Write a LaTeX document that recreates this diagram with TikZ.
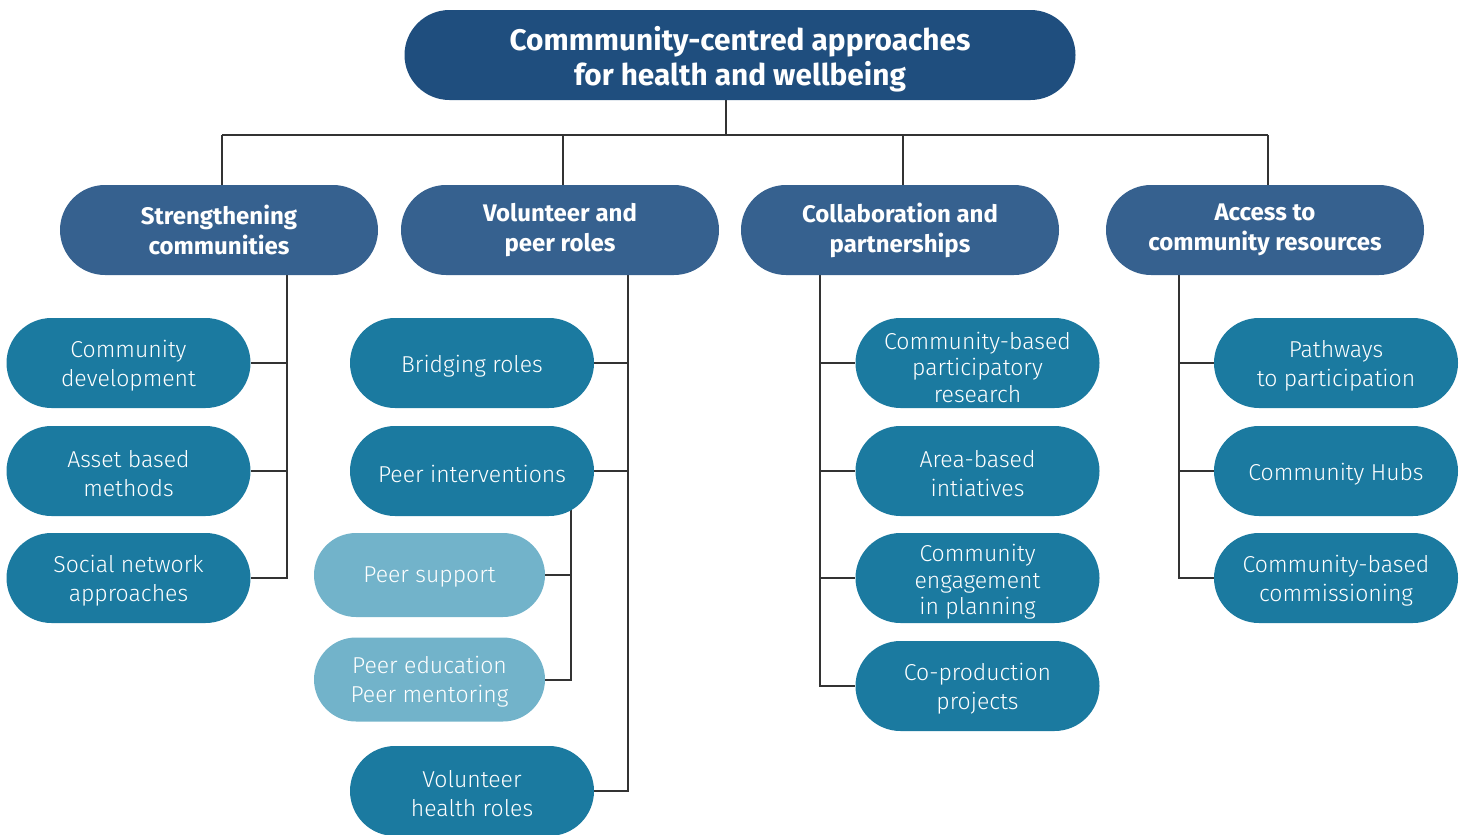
\documentclass[tikz,border=0pt]{standalone}
\usepackage{fontspec}
\setmainfont{Fira Sans Light}[BoldFont={Fira Sans Bold}]
\usetikzlibrary{backgrounds}
\definecolor{titleblue}{HTML}{1F4E7E}
\definecolor{headblue}{HTML}{36618F}
\definecolor{leafblue}{HTML}{1B7AA0}
\definecolor{leaflight}{HTML}{72B3CA}
\definecolor{wire}{HTML}{333333}
\begin{document}
\begin{tikzpicture}[x=1pt,y=-1pt,
  pill/.style={rectangle, rounded corners=45pt, inner sep=0pt},
  caption/.style n args={3}{label={[text=white, align=center, inner sep=0pt,
    yshift=#2, font=#3]center:#1}},
  titlebox/.style={pill, fill=titleblue, minimum width=671pt, minimum height=90pt,
    caption={#1}{-4pt}{\bfseries\fontsize{29.8}{35}\selectfont}},
  headbox/.style={pill, fill=headblue, minimum width=318pt, minimum height=90pt,
    caption={#1}{0pt}{\bfseries\fontsize{24}{30}\selectfont}},
  leafbox/.style={pill, fill=leafblue, minimum width=244pt, minimum height=90pt,
    caption={#1}{-3pt}{\fontsize{23}{29}\selectfont}},
  tightbox/.style={pill, fill=leafblue, minimum width=244pt, minimum height=90pt,
    caption={#1}{-4pt}{\fontsize{23}{26.5}\selectfont}},
  subbox/.style={pill, fill=leaflight, rounded corners=42pt, minimum width=231pt, minimum height=84pt,
    caption={#1}{-2pt}{\fontsize{23}{29}\selectfont}},
  wireline/.style={draw=wire, line width=2pt}]
\useasboundingbox (0,0) rectangle (1467,835);

% top level and the four themes
\node[titlebox={Commmunity-centred approaches\\for health and wellbeing}] (title) at (740,55) {};
\node[headbox={Strengthening\\communities}] (h1) at (219,230) {};
\node[headbox={Volunteer and\\peer roles}] (h2) at (560,230) {};
\node[headbox={Collaboration and\\partnerships}] (h3) at (900,230) {};
\node[headbox={Access to\\community resources}] (h4) at (1265,230) {};

% strengthening communities
\node[leafbox={Community\\development}] (cd) at (128.5,363) {};
\node[leafbox={Asset based\\methods}] (ab) at (128.5,471) {};
\node[leafbox={Social network\\approaches}] (sn) at (128.5,578) {};

% volunteer and peer roles
\node[leafbox={Bridging roles}] (br) at (472,363) {};
\node[leafbox={Peer interventions}] (pi) at (472,471) {};
\node[subbox={Peer support}] (ps) at (429.5,575) {};
\node[subbox={Peer education\\Peer mentoring}] (pe) at (429.5,679.5) {};
\node[leafbox={Volunteer\\health roles}] (vh) at (472,791) {};

% collaboration and partnerships
\node[tightbox={Community-based\\participatory\\research}] (cb) at (977.5,363) {};
\node[leafbox={Area-based\\intiatives}] (ar) at (977.5,471) {};
\node[tightbox={Community\\engagement\\in planning}] (ce) at (977.5,578) {};
\node[leafbox={Co-production\\projects}] (co) at (977.5,686) {};

% access to community resources
\node[leafbox={Pathways\\to participation}] (pa) at (1336,363) {};
\node[leafbox={Community Hubs}] (hu) at (1336,471) {};
\node[leafbox={Community-based\\commissioning}] (cm) at (1336,578) {};

\begin{scope}[on background layer]
  % bus from the title to the themes
  \coordinate (bus) at (726,135);
  \draw[wireline] (bus |- title.south) -- (bus);
  \draw[wireline] ([xshift=3pt]h1.north |- bus) -- ([xshift=3pt]h4.north |- bus);
  \foreach \h in {h1,h2,h3,h4}
    \draw[wireline] ([xshift=2.5pt]\h.north |- bus) -- ([xshift=2.5pt]\h.north);

  % trunks below each theme
  \coordinate (t1) at (287,275);
  \coordinate (t2) at (628,275);
  \coordinate (t3) at (820,275);
  \coordinate (t4) at (1179,275);
  \coordinate (s2) at (571,500);
  \foreach \n in {cd,ab,sn} \draw[wireline] (t1) |- (\n.east);
  \foreach \n in {br,pi,vh} \draw[wireline] (t2) |- (\n.east);
  \foreach \n in {ps,pe} \draw[wireline] (s2) |- (\n.east);
  \foreach \n in {cb,ar,ce,co} \draw[wireline] (t3) |- (\n.west);
  \foreach \n in {pa,hu,cm} \draw[wireline] (t4) |- (\n.west);
\end{scope}
\end{tikzpicture}
\end{document}
